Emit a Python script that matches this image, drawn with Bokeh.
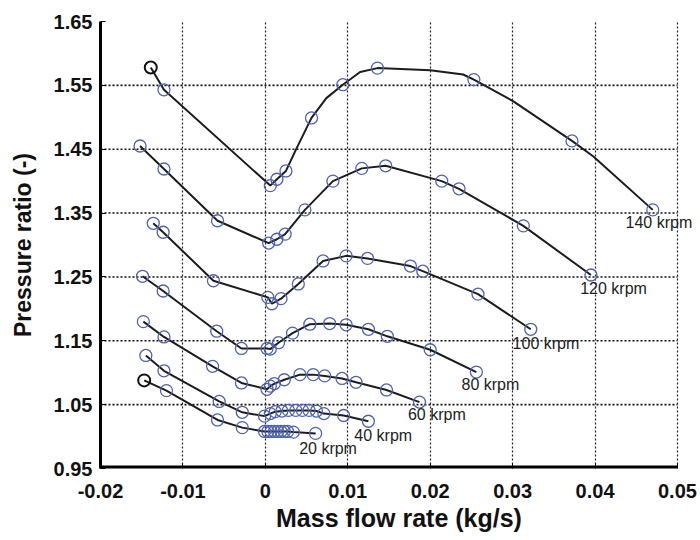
from bokeh.plotting import figure
from bokeh.models import FixedTicker, CustomJSTickFormatter, Range1d, Label
from bokeh.embed import file_html
from bokeh.resources import INLINE

# ---- data ----
x_ticks = [-0.02, -0.01, 0.0, 0.01, 0.02, 0.03, 0.04, 0.05]
y_ticks = [0.95, 1.05, 1.15, 1.25, 1.35, 1.45, 1.55, 1.65]

# measured points (circles)
s140_x = [-0.0139, -0.0123, 0.0006, 0.0014, 0.0025, 0.0056, 0.0094, 0.0136, 0.0253, 0.0372, 0.0470]
s140_y = [1.578, 1.543, 1.393, 1.403, 1.416, 1.499, 1.551, 1.577, 1.559, 1.463, 1.355]
# traced path of the 140 krpm fitted line
c140_x = [-0.0139, -0.0123, 0.0006, 0.0014, 0.0025, 0.0037, 0.0056, 0.0074, 0.0094, 0.0115, 0.0136,
          0.0200, 0.0240, 0.0253, 0.0301, 0.0372, 0.0398, 0.0470]
c140_y = [1.578, 1.543, 1.393, 1.403, 1.416, 1.449, 1.499, 1.530, 1.551, 1.571, 1.577,
          1.5735, 1.567, 1.559, 1.525, 1.463, 1.4385, 1.355]

s120_x = [-0.0152, -0.0123, -0.0058, 0.0004, 0.0014, 0.0024, 0.0048, 0.0082, 0.0117, 0.0146, 0.0214, 0.0235, 0.0313, 0.0395]
s120_y = [1.455, 1.419, 1.338, 1.303, 1.309, 1.317, 1.355, 1.400, 1.420, 1.424, 1.400, 1.388, 1.330, 1.253]

s100_x = [-0.0136, -0.0124, -0.0063, 0.0003, 0.0008, 0.0019, 0.0040, 0.0070, 0.0098, 0.0124, 0.0176, 0.0191, 0.0258, 0.0322]
s100_y = [1.334, 1.320, 1.244, 1.218, 1.208, 1.216, 1.239, 1.275, 1.283, 1.279, 1.267, 1.259, 1.223, 1.168]

s80_x = [-0.0149, -0.0124, -0.0059, -0.0029, 0.0002, 0.0006, 0.0016, 0.0033, 0.0054, 0.0078, 0.0098, 0.0125, 0.0148, 0.0200, 0.0256]
s80_y = [1.251, 1.228, 1.165, 1.138, 1.138, 1.137, 1.147, 1.162, 1.176, 1.177, 1.175, 1.168, 1.157, 1.136, 1.101]

s60_x = [-0.0148, -0.0123, -0.0064, -0.0029, 0.0002, 0.0006, 0.0011, 0.0023, 0.0042, 0.0058, 0.0072, 0.0093, 0.0110, 0.0147, 0.0187]
s60_y = [1.180, 1.156, 1.110, 1.084, 1.074, 1.079, 1.083, 1.089, 1.097, 1.097, 1.095, 1.091, 1.085, 1.073, 1.054]

s40_x = [-0.0145, -0.0123, -0.0056, -0.0028, -0.0001, 0.0006, 0.0012, 0.0020, 0.0028, 0.0037, 0.0045, 0.0053, 0.0062, 0.0071, 0.0095, 0.0125]
s40_y = [1.127, 1.103, 1.055, 1.038, 1.032, 1.036, 1.039, 1.040, 1.041, 1.041, 1.041, 1.041, 1.040, 1.036, 1.033, 1.024]

s20_x = [-0.0147, -0.0120, -0.0058, -0.0028, -0.0001, 0.0003, 0.0007, 0.0011, 0.0015, 0.0019, 0.0023, 0.0027, 0.0034, 0.0061]
s20_y = [1.088, 1.072, 1.026, 1.014, 1.008, 1.008, 1.008, 1.008, 1.008, 1.008, 1.008, 1.008, 1.007, 1.005]

# (marker x, marker y, line x, line y, first point drawn black)
series = [(s140_x, s140_y, c140_x, c140_y, True),
          (s120_x, s120_y, s120_x, s120_y, False),
          (s100_x, s100_y, s100_x, s100_y, False),
          (s80_x, s80_y, s80_x, s80_y, False),
          (s60_x, s60_y, s60_x, s60_y, False),
          (s40_x, s40_y, s40_x, s40_y, False),
          (s20_x, s20_y, s20_x, s20_y, True)]

label_text = ["140 krpm", "120 krpm", "100 krpm", "80 krpm", "60 krpm", "40 krpm", "20 krpm"]
label_x = [0.0437, 0.0382, 0.0300, 0.0238, 0.0173, 0.0108, 0.0041]
label_y = [1.336, 1.232, 1.146, 1.082, 1.034, 1.002, 0.981]

# ---- figure ----
# the frame extends a little past 0.05 so the "140 krpm" label is not clipped;
# the axis line and horizontal grid lines are drawn only up to 0.05
x_end = x_ticks[-1] + 0.00243
p = figure(width=700, height=540, output_backend="svg", toolbar_location=None,
           x_range=Range1d(x_ticks[0], x_end), y_range=Range1d(y_ticks[0], y_ticks[-1]),
           min_border_left=100, min_border_top=21, min_border_right=3, min_border_bottom=72)
p.outline_line_color = None
p.background_fill_color = "white"
p.border_fill_color = "white"

for ax in (p.xaxis[0], p.yaxis[0]):
    ax.axis_line_width = 3
    ax.axis_line_color = "black"
    ax.major_tick_in = 5
    ax.major_tick_out = 0
    ax.major_tick_line_color = "black"
    ax.minor_tick_line_color = None
    ax.major_label_text_font = "Liberation Sans"
    ax.major_label_text_font_style = "bold"
    ax.major_label_text_font_size = "20px"
    ax.major_label_text_color = "#111111"
    ax.axis_label_text_font = "Liberation Sans"
    ax.axis_label_text_font_style = "bold"
    ax.axis_label_text_color = "#111111"

p.xaxis[0].axis_line_color = None
p.xaxis[0].axis_label_text_font_size = "25px"
p.yaxis[0].axis_label_text_font_size = "23px"
p.xaxis[0].ticker = FixedTicker(ticks=x_ticks)
p.yaxis[0].ticker = FixedTicker(ticks=y_ticks)
p.xaxis[0].formatter = CustomJSTickFormatter(code="return Math.abs(tick) < 1e-9 ? '0' : tick.toFixed(2);")
p.yaxis[0].formatter = CustomJSTickFormatter(code="return tick.toFixed(2);")
p.xaxis[0].axis_label = "Mass flow rate (kg/s)"
p.yaxis[0].axis_label = "Pressure ratio (-)"
p.xaxis[0].major_label_standoff = 15
p.xaxis[0].axis_label_standoff = 3
p.yaxis[0].major_label_standoff = 8
p.yaxis[0].axis_label_standoff = 15

p.xgrid[0].grid_line_color = "#222222"
p.xgrid[0].grid_line_dash = "2 2"
p.xgrid[0].grid_line_width = 1.2
p.ygrid[0].grid_line_color = None

# horizontal dotted grid lines, limited to the axis span
gy = y_ticks[1:-1]
p.segment(x0=[x_ticks[0]] * len(gy), x1=[x_ticks[-1]] * len(gy), y0=gy, y1=gy,
          line_color="#111111", line_width=1.6, line_dash="2 2")
# bottom axis line (half of it is clipped by the frame, leaving ~3 px)
p.segment(x0=[x_ticks[0]], x1=[x_ticks[-1]], y0=[y_ticks[0]], y1=[y_ticks[0]],
          line_color="black", line_width=6)

for mx, my, lx, ly, black_start in series:
    p.line(lx, ly, line_color="#1c1c1c", line_width=2)
    start = 1 if black_start else 0
    p.scatter(mx[start:], my[start:], marker="circle", size=12, fill_color=None,
              line_color="#4f62b4", line_width=1.3)
    if black_start:
        p.scatter(mx[:1], my[:1], marker="circle", size=12, fill_color=None,
                  line_color="#111111", line_width=2)

for t, lx, ly in zip(label_text, label_x, label_y):
    p.add_layout(Label(x=lx, y=ly, text=t, text_font="Liberation Sans",
                       text_font_size="16px", text_color="#222222", text_align="left",
                       text_baseline="middle"))

open("out.html", "w").write(file_html(p, INLINE))
